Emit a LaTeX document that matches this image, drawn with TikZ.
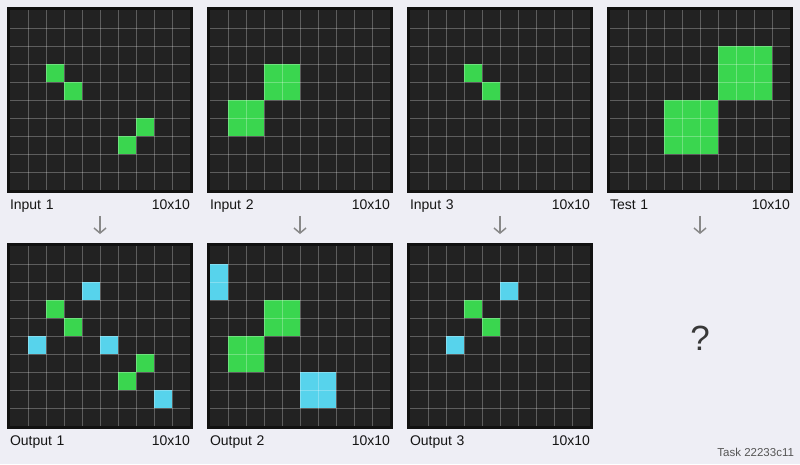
\documentclass[tikz,border=0pt]{standalone}
\usepackage{fontspec}
\setmainfont{Liberation Sans}
\usepackage{xcolor}
\usepackage{tikz}
\usetikzlibrary{arrows.meta,positioning}

\definecolor{pagebg}{HTML}{EEEEF5}
\definecolor{gridbg}{HTML}{222222}
\definecolor{gridrim}{HTML}{111111}
\definecolor{arcg}{HTML}{3AD64F}
\definecolor{arcc}{HTML}{57D3EC}
\definecolor{flowgray}{HTML}{888888}
\definecolor{textdark}{HTML}{151515}
\definecolor{textsoft}{HTML}{555555}

\tikzset{
  gridbox/.style={draw=gridrim, line width=3pt, fill=gridbg, minimum size=183pt, inner sep=0pt, outer sep=0pt},
  gridline/.style={draw=white, draw opacity=0.27, line width=0.8pt},
  cell/.style={fill=arc#1},
  gridcap/.style={text width=180pt, inner sep=0pt, align=left, text=textdark, font=\fontsize{14}{16}\selectfont},
  flow/.style={draw=flowgray, line width=1.5pt, -{Straight Barb[length=5pt,width=12pt]}},
}

% \panel{name}{x0}{y0}{caption}{cells col/row/colour}
\newcommand{\panel}[5]{%
  \node[gridbox] (#1) at (#2+90,#3+90) {};
  \foreach \c/\r/\k in {#5}
    \fill[cell=\k] (#2+18*\c,#3+18*\r) rectangle ++(18,18);
  \foreach \i in {1,...,9} {
    \draw[gridline] (#2+18*\i,#3) -- ++(0,180);
    \draw[gridline] (#2,#3+18*\i) -- ++(180,0);
  }
  \node[gridcap, below=6.5pt of #1] (#1cap) {\strut#4\hfill 10x10};
}

\begin{document}
\begin{tikzpicture}[x=1pt, y=-1pt]
        \fill[pagebg] (0,0) rectangle (800,464);
        \useasboundingbox (0,0) rectangle (800,464);

        % inputs and test
        \panel{in1}{10}{10}{Input 1}{2/3/g,3/4/g,7/6/g,6/7/g}
        \panel{in2}{210}{10}{Input 2}{3/3/g,4/3/g,3/4/g,4/4/g,1/5/g,2/5/g,1/6/g,2/6/g}
        \panel{in3}{410}{10}{Input 3}{3/3/g,4/4/g}
        \panel{ts1}{610}{10}{Test 1}{6/2/g,7/2/g,8/2/g,6/3/g,7/3/g,8/3/g,6/4/g,7/4/g,8/4/g,
          3/5/g,4/5/g,5/5/g,3/6/g,4/6/g,5/6/g,3/7/g,4/7/g,5/7/g}

        % outputs
        \panel{out1}{10}{246}{Output 1}{2/3/g,3/4/g,7/6/g,6/7/g,4/2/c,1/5/c,5/5/c,8/8/c}
        \panel{out2}{210}{246}{Output 2}{3/3/g,4/3/g,3/4/g,4/4/g,1/5/g,2/5/g,1/6/g,2/6/g,
          0/1/c,0/2/c,5/7/c,6/7/c,5/8/c,6/8/c}
        \panel{out3}{410}{246}{Output 3}{3/3/g,4/4/g,5/2/c,2/5/c}

        % unknown test output
        \coordinate (ts1out) at (700,244.5);
        \node[text=textdark!85, font=\fontsize{35}{40}\selectfont] (ts1q) at (700,338) {?};

        % input -> output
        \draw[flow, shorten <=1.5pt, shorten >=10.5pt] (in1cap) -- (out1);
        \draw[flow, shorten <=1.5pt, shorten >=10.5pt] (in2cap) -- (out2);
        \draw[flow, shorten <=1.5pt, shorten >=10.5pt] (in3cap) -- (out3);
        \draw[flow, shorten <=1.5pt, shorten >=10.5pt] (ts1cap) -- (ts1out);

        \node[anchor=base east, text=textsoft, font=\fontsize{11.5}{13}\selectfont] (task) at (797.5,456) {Task 22233c11};
\end{tikzpicture}
\end{document}
